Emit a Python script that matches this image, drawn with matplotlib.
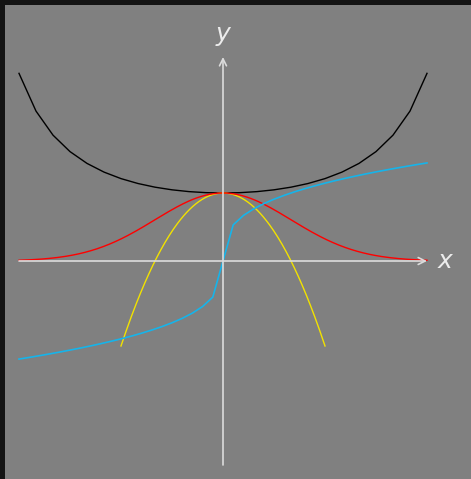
import numpy as np
import matplotlib
matplotlib.use("Agg")
import matplotlib.pyplot as plt

# sample grids for each curve
x_black = np.linspace(-3, 3, 25)
x_red = np.linspace(-3, 3, 200)
x_yellow = np.linspace(-1.5, 1.5, 200)
x_cyan = np.linspace(-3, 3, 41)

y_black = 1 / np.cos(0.4 * x_black)
y_red = np.exp(-x_red**2 / 2)
y_yellow = 1 - x_yellow**2
y_cyan = np.cbrt(x_cyan)

axis_min, axis_max = -3, 3

W, H = 471, 479
fig = plt.figure(figsize=(W / 100, H / 100), dpi=100)
fig.patch.set_facecolor('#141414')

# axes area leaves a thin dark strip at the top and left
ax = fig.add_axes([5 / W, 0, (W - 5) / W, (H - 5) / H])
ax.set_facecolor('#808080')
px = 68.0
ax.set_xlim((5 - 223) / px, (W - 223) / px)
ax.set_ylim(-(H - 261) / px, (261 - 5) / px)
ax.set_xticks([])
ax.set_yticks([])
for s in ax.spines.values():
    s.set_visible(False)

axis_col = '#dcdcdc'
ax.annotate('', xy=(axis_max, 0), xytext=(axis_min, 0),
            arrowprops=dict(arrowstyle='->,head_length=0.5,head_width=0.25',
                            color=axis_col, lw=1.2, shrinkA=0, shrinkB=0))
ax.annotate('', xy=(0, axis_max), xytext=(0, axis_min),
            arrowprops=dict(arrowstyle='->,head_length=0.5,head_width=0.25',
                            color=axis_col, lw=1.2, shrinkA=0, shrinkB=0))

ax.plot(x_black, y_black, color='black', lw=1.0)
ax.plot(x_yellow, y_yellow, color='#f2e200', lw=1.0)
ax.plot(x_red, y_red, color='#ff0000', lw=1.0)
ax.plot(x_cyan, y_cyan, color='#16b4ea', lw=1.2)

ax.text(3.26, 0, 'x', style='italic', color='#ececec', fontsize=18,
        ha='center', va='center')
ax.text(0, 3.34, 'y', style='italic', color='#ececec', fontsize=18,
        ha='center', va='center')

fig.savefig('out.png', dpi=100, facecolor=fig.get_facecolor())
